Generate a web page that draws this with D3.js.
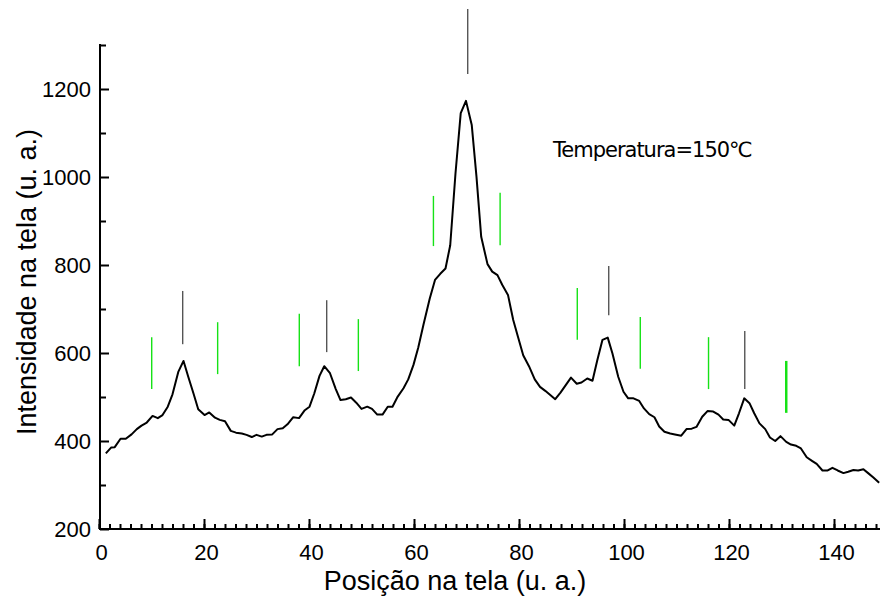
<!DOCTYPE html>
<html>
<head>
<meta charset="utf-8">
<script src="https://cdn.jsdelivr.net/npm/d3@7"></script>
<style>
  body { margin: 0; background: #fff; }
  svg { display: block; }
</style>
</head>
<body>
<div id="chart"></div>
<script>
// positions along the screen (u. a.) and measured intensity
var posX = [1.3, 2.3, 3.0, 4.1, 5.1, 6.2, 7.2, 8.1, 9.1, 10.2, 11.2, 12.1, 13.1, 14.0, 15.1, 16.1, 17.0, 18.0, 18.9, 20.1,
    21.0, 22.1, 23.0, 24.0, 25.1, 26.1, 27.2, 28.1, 29.1, 30.0, 31.0, 31.9, 33.0, 34.0, 35.0, 35.9, 37.0, 38.1, 39.2, 40.1,
    41.0, 42.0, 42.9, 44.0, 45.1, 46.0, 47.0, 48.0, 49.0, 50.0, 51.1, 52.0, 53.0, 54.0, 55.0, 55.9, 56.9, 58.0, 58.9, 59.9,
    60.8, 61.8, 63.0, 64.0, 65.0, 66.0, 66.9, 67.9, 68.9, 69.9, 71.0, 71.9, 72.8, 74.0, 74.9, 75.9, 76.8, 77.9, 78.9, 79.8,
    80.8, 81.9, 83.0, 84.0, 85.0, 85.9, 86.9, 87.9, 88.9, 89.9, 91.0, 91.9, 93.0, 94.0, 94.9, 95.9, 96.9, 97.8, 98.9, 99.9,
    100.8, 101.8, 102.9, 103.8, 104.8, 105.8, 106.7, 107.7, 108.8, 109.7, 110.9, 111.9, 112.9, 113.8, 114.9, 115.9, 117.0, 118.0, 118.9, 119.9,
    121.0, 121.9, 122.9, 123.9, 124.8, 125.8, 126.9, 127.8, 128.8, 129.8, 130.9, 131.8, 132.8, 133.7, 134.8, 135.8, 136.7, 137.8, 138.8, 139.7,
    140.7, 141.8, 142.7, 143.7, 144.6, 145.6, 146.5, 147.5, 148.6];
var intensity = [372, 385, 386, 405, 405, 415, 427, 435, 442, 457, 452, 459, 478, 506, 557, 582, 546, 508, 472, 459,
    465, 453, 448, 445, 423, 419, 417, 414, 409, 414, 410, 414, 415, 427, 429, 438, 454, 452, 470, 478,
    508, 548, 570, 554, 518, 493, 495, 499, 487, 473, 478, 473, 460, 460, 478, 478, 501, 520, 540, 573,
    612, 664, 724, 766, 780, 792, 845, 1008, 1145, 1173, 1118, 1001, 864, 802, 785, 777, 755, 732, 675, 637,
    595, 570, 540, 523, 514, 505, 495, 510, 527, 544, 530, 533, 542, 537, 583, 630, 635, 599, 546, 512,
    497, 497, 491, 474, 461, 454, 433, 421, 417, 415, 412, 427, 428, 432, 455, 468, 467, 460, 449, 448,
    435, 463, 497, 486, 463, 440, 427, 408, 400, 411, 398, 392, 389, 383, 363, 355, 348, 333, 333, 339,
    333, 327, 330, 334, 333, 336, 327, 317, 305];

// reference peak markers (position, lower and upper intensity)
var darkPos  = [15.94, 43.37, 70.23, 97.09, 123.0];
var darkLow  = [620, 602, 1234, 686, 518];
var darkHigh = [741, 720, 1382, 798, 650];

var greenPos  = [10.04, 22.6, 38.15, 49.4, 63.7, 76.4, 91.1, 103.1, 116.1, 130.9];
var greenLow  = [518, 552, 570, 559, 843, 845, 630, 564, 518, 464];
var greenHigh = [636, 670, 689, 677, 957, 964, 748, 682, 636, 582];

var xTicks = [0, 20, 40, 60, 80, 100, 120, 140];
var yTicks = [200, 400, 600, 800, 1000, 1200];
var xMinor = d3.range(0, 149, 2);
var yMinor = [300, 500, 700, 900, 1100, 1300];

var width = 880, height = 599;

var svg = d3.select("#chart").append("svg")
    .attr("width", width)
    .attr("height", height);

var x = d3.scaleLinear().domain([0, 148.76]).range([99, 880]);
var y = d3.scaleLinear().domain([200, 1300]).range([529, 45]);

var font = "'Liberation Sans', Arial, sans-serif";

// minor ticks
svg.append("g")
    .attr("transform", "translate(0,529)")
    .call(d3.axisBottom(x).tickValues(xMinor).tickSize(-5).tickSizeOuter(0).tickFormat(""))
    .call(g => g.select(".domain").remove())
    .selectAll("line").attr("stroke", "#000").attr("stroke-width", 2);

svg.append("g")
    .attr("transform", "translate(100,0)")
    .call(d3.axisLeft(y).tickValues(yMinor).tickSize(-6).tickSizeOuter(0).tickFormat(""))
    .call(g => g.select(".domain").remove())
    .selectAll("line").attr("stroke", "#000").attr("stroke-width", 2);

// major axes
var xAxis = svg.append("g")
    .attr("transform", "translate(0,529)")
    .call(d3.axisBottom(x).tickValues(xTicks).tickSize(-10).tickSizeOuter(0).tickPadding(15));
xAxis.select(".domain").attr("stroke-width", 2).attr("d", "M100,0H880");
xAxis.selectAll("line").attr("stroke-width", 2);
xAxis.selectAll("text").attr("font-family", font).attr("font-size", 22).attr("fill", "#000")
    .attr("dx", 2);

var yAxis = svg.append("g")
    .attr("transform", "translate(100,0)")
    .call(d3.axisLeft(y).tickValues(yTicks).tickSize(-9).tickSizeOuter(0).tickPadding(9)
        .tickFormat(d3.format("d")));
yAxis.select(".domain").attr("stroke-width", 2).attr("d", "M0,44V530");
yAxis.selectAll("line").attr("stroke-width", 2);
yAxis.selectAll("text").attr("font-family", font).attr("font-size", 22).attr("fill", "#000");

// peak markers
svg.append("g").selectAll("line")
    .data(greenPos)
    .join("line")
    .attr("x1", d => x(d)).attr("x2", d => x(d))
    .attr("y1", (d, i) => y(greenLow[i]))
    .attr("y2", (d, i) => y(greenHigh[i]))
    .attr("stroke", "#16e216")
    .attr("stroke-width", (d, i) => i === greenPos.length - 1 ? 2.5 : 1.4);

svg.append("g").selectAll("line")
    .data(darkPos)
    .join("line")
    .attr("x1", d => x(d)).attr("x2", d => x(d))
    .attr("y1", (d, i) => y(darkLow[i]))
    .attr("y2", (d, i) => y(darkHigh[i]))
    .attr("stroke", "#555")
    .attr("stroke-width", 1.4);

// intensity curve
var line = d3.line()
    .x((d, i) => x(posX[i]))
    .y(d => y(d));

svg.append("path")
    .datum(intensity)
    .attr("d", line)
    .attr("fill", "none")
    .attr("stroke", "#000")
    .attr("stroke-width", 2)
    .attr("stroke-linejoin", "round");

// titles
svg.append("text")
    .attr("x", 455).attr("y", 590)
    .attr("text-anchor", "middle")
    .attr("font-family", font).attr("font-size", 27)
    .text("Posição na tela (u. a.)");

svg.append("text")
    .attr("transform", "translate(36,282) rotate(-90)")
    .attr("text-anchor", "middle")
    .attr("font-family", font).attr("font-size", 27)
    .text("Intensidade na tela (u. a.)");

svg.append("text")
    .attr("x", 553).attr("y", 157)
    .attr("font-family", "'DejaVu Sans', sans-serif").attr("font-size", 21)
    .attr("letter-spacing", -1)
    .text("Temperatura=150℃");
</script>
</body>
</html>
